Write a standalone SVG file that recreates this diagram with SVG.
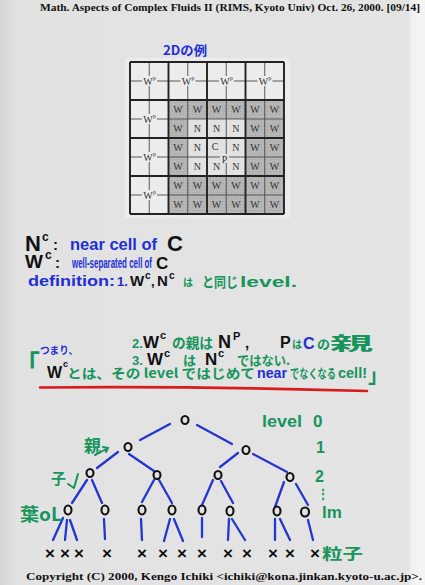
<svg xmlns="http://www.w3.org/2000/svg" width="425" height="585" viewBox="0 0 425 585">
<defs>
<style>
.hdr{font-family:"Liberation Serif",serif;font-weight:bold;font-size:10.5px;fill:#111}
.g{font-family:"Liberation Serif",serif;font-size:10px;fill:#333;text-anchor:middle}
.gs{font-family:"Liberation Serif",serif;font-size:6px;fill:#333}
.h{font-family:"Liberation Sans","Noto Sans CJK JP",sans-serif;font-weight:bold}
.hj{font-family:"Noto Sans CJK JP","Liberation Sans",sans-serif;font-weight:bold}
.k{fill:#111}
.b{fill:#1e2fd6}
.gr{fill:#17955c}
.thin{stroke:#4a4a4a;stroke-width:0.9;fill:none}
.thick{stroke:#222;stroke-width:1.9;fill:none}
.edge{stroke:#2436d0;stroke-width:2.3;stroke-linecap:round;fill:none}
.node{stroke:#111;stroke-width:2.1;fill:none}
.leaf{font-family:"Liberation Sans",sans-serif;font-weight:bold;font-size:17px;fill:#111;text-anchor:middle}
.lab{fill:#ececec}
</style>
<pattern id="dots" width="3" height="3" patternUnits="userSpaceOnUse">
<rect width="3" height="3" fill="#b6b6b6"/>
<rect width="1" height="1" fill="#a4a4a4"/>
</pattern>
<linearGradient id="bg" x1="0" y1="0" x2="1" y2="0">
<stop offset="0" stop-color="#d6d6d6"/>
<stop offset="0.04" stop-color="#e2e2e2"/>
<stop offset="0.96" stop-color="#e4e4e4"/>
<stop offset="0.97" stop-color="#f2f2f2"/>
<stop offset="1" stop-color="#f4f4f4"/>
</linearGradient>
</defs>
<rect width="425" height="585" fill="url(#bg)"/>

<g id="header">
<text class="hdr" x="40" y="11" textLength="380" lengthAdjust="spacingAndGlyphs">Math. Aspects of Complex Fluids II (RIMS, Kyoto Univ) Oct. 26, 2000. [09/14]</text>
</g>
<g id="title">
<text class="hj b" x="163" y="55" font-size="13" textLength="44" lengthAdjust="spacingAndGlyphs">2Dの例</text>
</g>

<g id="grid">
<rect x="125" y="58" width="165" height="160" fill="#ebebeb"/>
<rect x="130" y="62" width="154" height="152" fill="#ececec"/>
<rect x="168.5" y="100" width="115.5" height="114" fill="url(#dots)"/>
<rect x="187.75" y="119" width="57.75" height="57" fill="#e2e2e2"/>
<path class="thin" d="M149.25 62V214M187.75 62V214M226.25 62V214M264.75 62V214M130 81H284M130 119H284M130 157H284M130 195H284"/>
<path class="thick" d="M130 62V214M168.5 62V214M207 62V214M245.5 62V214M284 62V214M130 62H284M130 100H284M130 138H284M130 176H284M130 214H284"/>
<g id="wp-labels">
<rect class="lab" x="142" y="76" width="15" height="10"/><text class="g" x="148" y="84.5">W</text><text class="gs" x="153" y="80">p</text>
<rect class="lab" x="180.5" y="76" width="15" height="10"/><text class="g" x="186.5" y="84.5">W</text><text class="gs" x="191.5" y="80">p</text>
<rect class="lab" x="219" y="76" width="15" height="10"/><text class="g" x="225" y="84.5">W</text><text class="gs" x="230" y="80">p</text>
<rect class="lab" x="257.5" y="76" width="15" height="10"/><text class="g" x="263.5" y="84.5">W</text><text class="gs" x="268.5" y="80">p</text>
<rect class="lab" x="142" y="114" width="15" height="10"/><text class="g" x="148" y="122.5">W</text><text class="gs" x="153" y="118">p</text>
<rect class="lab" x="142" y="152" width="15" height="10"/><text class="g" x="148" y="160.5">W</text><text class="gs" x="153" y="156">p</text>
<rect class="lab" x="142" y="190" width="15" height="10"/><text class="g" x="148" y="198.5">W</text><text class="gs" x="153" y="194">p</text>
</g>
<g id="cell-labels">
<text class="g" x="178.1" y="113">W</text><text class="g" x="197.4" y="113">W</text><text class="g" x="216.6" y="113">W</text><text class="g" x="235.9" y="113">W</text><text class="g" x="255.1" y="113">W</text><text class="g" x="274.4" y="113">W</text>
<text class="g" x="178.1" y="132">W</text><text class="g" x="197.4" y="132">N</text><text class="g" x="216.6" y="132">N</text><text class="g" x="235.9" y="132">N</text><text class="g" x="255.1" y="132">W</text><text class="g" x="274.4" y="132">W</text>
<text class="g" x="178.1" y="151">W</text><text class="g" x="197.4" y="151">N</text><text class="g" x="215" y="150">C</text><text class="g" x="235.9" y="151">N</text><text class="g" x="255.1" y="151">W</text><text class="g" x="274.4" y="151">W</text>
<text class="g" x="178.1" y="170">W</text><text class="g" x="197.4" y="170">N</text><text class="g" x="216.6" y="170">N</text><text class="g" x="235.9" y="170">N</text><text class="g" x="255.1" y="170">W</text><text class="g" x="274.4" y="170">W</text>
<text class="g" x="178.1" y="189">W</text><text class="g" x="197.4" y="189">W</text><text class="g" x="216.6" y="189">W</text><text class="g" x="235.9" y="189">W</text><text class="g" x="255.1" y="189">W</text><text class="g" x="274.4" y="189">W</text>
<text class="g" x="178.1" y="208">W</text><text class="g" x="197.4" y="208">W</text><text class="g" x="216.6" y="208">W</text><text class="g" x="235.9" y="208">W</text><text class="g" x="255.1" y="208">W</text><text class="g" x="274.4" y="208">W</text>
<rect x="220" y="154" width="9" height="9" fill="#e2e2e2"/><text class="g" x="224.5" y="162.5">P</text>
</g>
</g>

<g id="notes">
<text class="h k" x="25" y="251" font-size="22">N</text>
<text class="h k" x="42" y="241" font-size="12">c</text>
<text class="h k" x="53" y="250" font-size="15">:</text>
<text class="h b" x="70" y="250" font-size="17" textLength="87" lengthAdjust="spacingAndGlyphs">near cell of</text>
<text class="h k" x="167" y="251" font-size="22">C</text>

<text class="h k" x="25" y="268" font-size="19">W</text>
<text class="h k" x="45" y="259" font-size="12">c</text>
<text class="h k" x="55" y="268" font-size="15">:</text>
<text class="h b" x="72" y="268" font-size="14" textLength="80" lengthAdjust="spacingAndGlyphs">well-separated cell of</text>
<text class="h k" x="156" y="269" font-size="17">C</text>

<text class="h b" x="28" y="286" font-size="15" textLength="87" lengthAdjust="spacingAndGlyphs">definition:</text>
<text class="h b" x="117" y="286" font-size="13">1.</text>
<text class="h k" x="130" y="286" font-size="15">W</text>
<text class="h k" x="145" y="279" font-size="10">c</text>
<text class="h k" x="151" y="286" font-size="13">,</text>
<text class="h k" x="157" y="286" font-size="15">N</text>
<text class="h k" x="169" y="279" font-size="10">c</text>
<text class="hj gr" x="183" y="286" font-size="10">は</text>
<text class="hj gr" x="202" y="287" font-size="14" textLength="36" lengthAdjust="spacingAndGlyphs">と同じ</text>
<text class="h gr" x="240" y="287" font-size="15" textLength="57" lengthAdjust="spacingAndGlyphs">level.</text>

<text class="h gr" x="132" y="348" font-size="13">2.</text>
<text class="h k" x="143" y="348" font-size="17">W</text>
<text class="h k" x="160" y="339" font-size="11">c</text>
<text class="hj gr" x="172" y="348" font-size="14" textLength="41" lengthAdjust="spacingAndGlyphs">の親は</text>
<text class="h k" x="218" y="348" font-size="18">N</text>
<text class="h k" x="233" y="340" font-size="11">P</text>
<text class="h k" x="245" y="348" font-size="15">,</text>
<text class="h k" x="280" y="348" font-size="16">P</text>
<text class="hj gr" x="292" y="348" font-size="10">は</text>
<text class="h b" x="303" y="349" font-size="16">C</text>
<text class="hj gr" x="317" y="349" font-size="13">の</text>
<text class="hj gr" x="330" y="350" font-size="18" textLength="43" lengthAdjust="spacingAndGlyphs">親</text>

<text class="hj b" x="40" y="354" font-size="10" textLength="38" lengthAdjust="spacingAndGlyphs">つまり、</text>
<text class="h gr" x="132" y="365" font-size="13">3.</text>
<text class="h k" x="147" y="365" font-size="17">W</text>
<text class="h k" x="164" y="357" font-size="11">c</text>
<text class="hj gr" x="183" y="365" font-size="13">は</text>
<text class="h k" x="205" y="365" font-size="17">N</text>
<text class="h k" x="218" y="357" font-size="11">c</text>
<text class="hj gr" x="237" y="365" font-size="13" textLength="53" lengthAdjust="spacingAndGlyphs">ではない.</text>

<text class="hj gr" x="14" y="374" font-size="26">「</text>
<text class="h k" x="47" y="378" font-size="16">W</text>
<text class="h k" x="63" y="367" font-size="9">c</text>
<text class="hj gr" x="67" y="378" font-size="13" textLength="188" lengthAdjust="spacingAndGlyphs">とは、その level ではじめて</text>
<text class="h b" x="257" y="378" font-size="14" textLength="30" lengthAdjust="spacingAndGlyphs">near</text>
<text class="hj gr" x="290" y="378" font-size="13" textLength="46" lengthAdjust="spacingAndGlyphs">でなくなる</text>
<text class="h gr" x="338" y="378" font-size="14" textLength="29" lengthAdjust="spacingAndGlyphs">cell!</text>
<text class="hj gr" x="368" y="383" font-size="20">」</text>
<path d="M40 387.5 Q200 386 367 391" stroke="#d81c1c" stroke-width="2.6" fill="none" stroke-linecap="round"/>
</g>

<g id="connectors">
<path class="edge" d="M170 424L140 440M197 425L232 444"/>
<path class="edge" d="M118 452L97 468M129 454L154 471M238 453L220 467M253 454L287 472"/>
<path class="edge" d="M87 480L72 503M92 480L102 503M154 480L142 502M159 480L172 503M213 480L202 505M221 481L233 503M284 482L275 507M296 484L308 505"/>
<path class="edge" d="M63 518L53 540M67 520L65 540M70 520L77 540M104 519L105 539M141 519L142 540M170 519L164 541M174 519L183 541M202 518L202 537M229 519L228 540M232 519L245 540M275 519L275 540M280 519L290 540M308 520L313 540"/>
</g>

<g id="nodes">
<g id="n-root"><ellipse class="node" cx="185" cy="420" rx="3.5" ry="4"/></g>
<g id="n-1a"><ellipse class="node" cx="128" cy="447" rx="3.5" ry="4"/></g>
<g id="n-1b"><ellipse class="node" cx="246" cy="450" rx="3.5" ry="4"/></g>
<g id="n-2a"><ellipse class="node" cx="90" cy="473" rx="3.5" ry="4"/></g>
<g id="n-2b"><ellipse class="node" cx="157" cy="475" rx="3.5" ry="4"/></g>
<g id="n-2c"><ellipse class="node" cx="218" cy="475" rx="3.5" ry="4"/></g>
<g id="n-2d"><ellipse class="node" cx="290" cy="477" rx="3.5" ry="4"/></g>
<g id="n-3a"><ellipse class="node" cx="68" cy="510" rx="3.5" ry="4.5"/></g>
<g id="n-3b"><ellipse class="node" cx="105" cy="510" rx="3.5" ry="4.5"/></g>
<g id="n-3c"><ellipse class="node" cx="142" cy="510" rx="3.5" ry="4.5"/></g>
<g id="n-3d"><ellipse class="node" cx="172" cy="510" rx="3.5" ry="4.5"/></g>
<g id="n-3e"><ellipse class="node" cx="202" cy="510" rx="3.5" ry="4.5"/></g>
<g id="n-3f"><ellipse class="node" cx="230" cy="511" rx="3.5" ry="4.5"/></g>
<g id="n-3g"><ellipse class="node" cx="277" cy="511" rx="3.5" ry="4.5"/></g>
<g id="n-3h"><ellipse class="node" cx="305" cy="512" rx="4" ry="4.5"/></g>
<g id="leaves">
<text class="leaf" x="50" y="559">×</text><text class="leaf" x="65" y="559">×</text><text class="leaf" x="79" y="559">×</text>
<text class="leaf" x="107" y="559">×</text><text class="leaf" x="142" y="559">×</text><text class="leaf" x="163" y="559">×</text>
<text class="leaf" x="182" y="559">×</text><text class="leaf" x="202" y="559">×</text><text class="leaf" x="228" y="559">×</text>
<text class="leaf" x="247" y="559">×</text><text class="leaf" x="273" y="559">×</text><text class="leaf" x="290" y="559">×</text>
<text class="leaf" x="315" y="559">×</text>
</g>
</g>

<g id="tree-labels">
<text class="h gr" x="262" y="427" font-size="16" textLength="40" lengthAdjust="spacingAndGlyphs">level</text>
<text class="h gr" x="313" y="427" font-size="17">0</text>
<text class="h gr" x="316" y="453" font-size="16">1</text>
<text class="h gr" x="315" y="482" font-size="16">2</text>
<text class="h gr" x="317" y="498" font-size="12">⋮</text>
<text class="h gr" x="322" y="518" font-size="17">lm</text>
<text class="hj gr" x="322" y="559" font-size="15" textLength="41" lengthAdjust="spacingAndGlyphs">粒子</text>
<text class="hj gr" x="84" y="452" font-size="17">親</text>
<path d="M95 455Q101 452 108 448M103 447L108 448L106 452" stroke="#17955c" stroke-width="2" fill="none" stroke-linecap="round"/>
<text class="hj gr" x="51" y="484" font-size="15">子</text>
<path d="M78 474L74 488M74 488L68 484" stroke="#17955c" stroke-width="2" fill="none" stroke-linecap="round"/>
<text class="hj gr" x="20" y="521" font-size="18" textLength="42" lengthAdjust="spacingAndGlyphs">葉oL</text>
</g>

<g id="footer">
<text class="hdr" x="26" y="580" textLength="396" lengthAdjust="spacingAndGlyphs">Copyright (C) 2000, Kengo Ichiki &lt;ichiki@kona.jinkan.kyoto-u.ac.jp&gt;.</text>
</g>
</svg>
